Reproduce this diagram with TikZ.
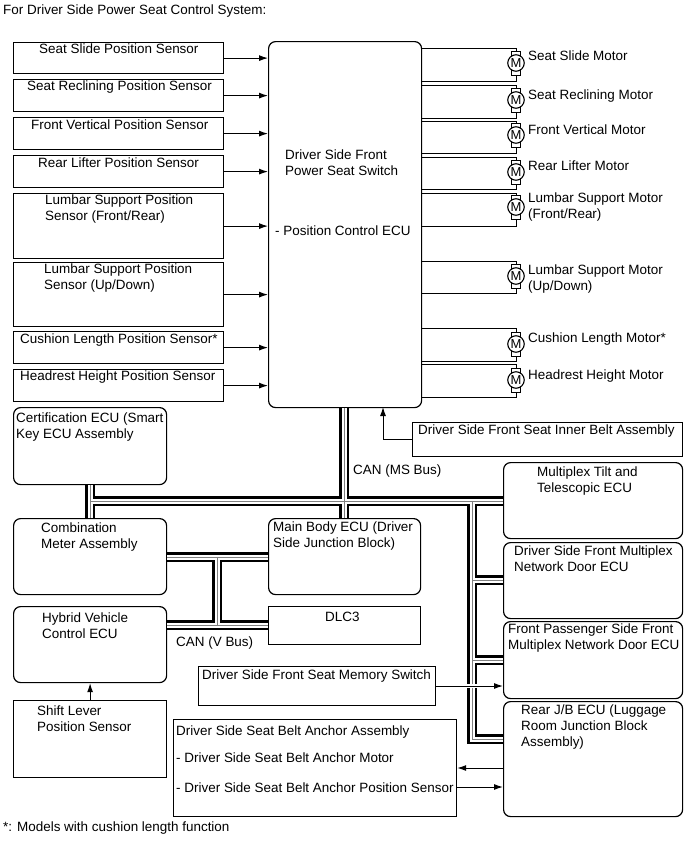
\documentclass[tikz,border=0pt]{standalone}
\usepackage{fontspec}
\setmainfont{Liberation Sans}
\usetikzlibrary{arrows.meta}
\usetikzlibrary{positioning}
\tikzstyle{sensor_box} = [
    rectangle, 
    draw=black, 
    fill=white, 
    line width=1.2pt, 
    anchor=north west, 
    inner sep=0pt
]
\tikzstyle{ecu_box} = [
    sensor_box, 
    rounded corners=7pt
]
\tikzstyle{box_text} = [
    anchor=north west, 
    inner sep=0pt, 
    yshift=-1pt, 
    align=left, 
    font=\fontsize{13.45}{16}\selectfont
]
\tikzstyle{motor_body} = [
    circle, 
    draw=black, 
    fill=white, 
    line width=1.1pt, 
    inner sep=0pt, 
    minimum size=16.5pt, 
    font=\fontsize{13}{13}\selectfont
]
\tikzstyle{motor_cap} = [
    rectangle, 
    draw=black, 
    fill=white, 
    line width=0.9pt, 
    inner sep=0pt, 
    minimum width=9.5pt, 
    minimum height=6pt
]
\tikzstyle{wire} = [
    draw=black, 
    line width=1pt
]
\tikzstyle{signal} = [
    wire, 
    -{Latex[length=9pt,width=6pt]}
]
% motor: name, centre y, upper wire y, lower wire y
\newcommand{\motorunit}[4]{
    \node [motor_cap] (#1_top) at (516,#2-9) {};
    \node [motor_cap] (#1_bot) at (516,#2+9) {};
    \node [motor_body] (#1) at (516,#2) {M};
    \draw [wire] (main_switch.east |- 0,#3) -| (#1_top.north);
    \draw [wire] (main_switch.east |- 0,#4) -| (#1_bot.south);
}
\begin{document}
\begin{tikzpicture}[x=1pt, y=-1pt]
\useasboundingbox (0,0) rectangle (689,854);

\node [box_text] (title) at (3,4) {For Driver Side Power Seat Control System:};
\node [box_text] (footnote) at (3,821) {*: Models with cushion length function};

% seat switch
\node [ecu_box, minimum width=153pt, minimum height=366pt] (main_switch) at (268,41) {};
\node [box_text] (main_name) at (285,149) {Driver Side Front\\Power Seat Switch};
\node [box_text] (main_ecu) at (275,225) {- Position Control ECU};

% position sensors
\node [sensor_box, minimum width=210pt, minimum height=31pt] (slide_sensor) at (13,42) {};
\node [sensor_box, minimum width=210pt, minimum height=32pt] (recline_sensor) at (13,79) {};
\node [sensor_box, minimum width=210pt, minimum height=32pt] (front_sensor) at (13,117) {};
\node [sensor_box, minimum width=210pt, minimum height=32pt] (rear_sensor) at (13,155) {};
\node [sensor_box, minimum width=210pt, minimum height=65pt] (lumbar_fr_sensor) at (13,193) {};
\node [sensor_box, minimum width=210pt, minimum height=64pt] (lumbar_ud_sensor) at (13,262) {};
\node [sensor_box, minimum width=210pt, minimum height=32pt] (cushion_sensor) at (13,331) {};
\node [sensor_box, minimum width=210pt, minimum height=32pt] (headrest_sensor) at (13,369) {};
\node [box_text] at (39,43) {Seat Slide Position Sensor};
\node [box_text] at (27,80) {Seat Reclining Position Sensor};
\node [box_text] at (31,119) {Front Vertical Position Sensor};
\node [box_text] at (38,157) {Rear Lifter Position Sensor};
\node [box_text] at (45,194) {Lumbar Support Position\\Sensor (Front/Rear)};
\node [box_text] at (44,263) {Lumbar Support Position\\Sensor (Up/Down)};
\node [box_text] at (20,333) {Cushion Length Position Sensor*};
\node [box_text] at (20,370) {Headrest Height Position Sensor};

\draw [signal] (slide_sensor.east) -- (main_switch.west |- slide_sensor.east);
\draw [signal] (recline_sensor.east) -- (main_switch.west |- recline_sensor.east);
\draw [signal] (front_sensor.east) -- (main_switch.west |- front_sensor.east);
\draw [signal] (rear_sensor.east) -- (main_switch.west |- rear_sensor.east);
\draw [signal] (lumbar_fr_sensor.east) -- (main_switch.west |- lumbar_fr_sensor.east);
\draw [signal] (lumbar_ud_sensor.east) -- (main_switch.west |- lumbar_ud_sensor.east);
\draw [signal] (cushion_sensor.east) -- (main_switch.west |- cushion_sensor.east);
\draw [signal] (headrest_sensor.east) -- (main_switch.west |- headrest_sensor.east);

% motors
\motorunit{slide_motor}{63}{48}{81}
\motorunit{recline_motor}{100}{85}{118}
\motorunit{front_motor}{135}{121}{153}
\motorunit{rear_motor}{172}{157}{189}
\motorunit{lumbar_fr_motor}{207}{193}{226}
\motorunit{lumbar_ud_motor}{276}{261}{293}
\motorunit{cushion_motor}{344}{328}{361}
\motorunit{headrest_motor}{380}{364}{397}
\node [box_text] at (528,50) {Seat Slide Motor};
\node [box_text] at (528,89) {Seat Reclining Motor};
\node [box_text] at (528,124) {Front Vertical Motor};
\node [box_text] at (528,160) {Rear Lifter Motor};
\node [box_text] at (528,192) {Lumbar Support Motor\\(Front/Rear)};
\node [box_text] at (528,264) {Lumbar Support Motor\\(Up/Down)};
\node [box_text] at (528,332) {Cushion Length Motor*};
\node [box_text] at (528,369) {Headrest Height Motor};

% inner belt
\node [sensor_box, minimum width=270pt, minimum height=34pt] (inner_belt) at (412,422) {};
\node [box_text] at (418,424) {Driver Side Front Seat Inner Belt Assembly};
\draw [signal] (inner_belt.west) -| (383,407);

% network members
\node [ecu_box, minimum width=153pt, minimum height=77pt] (cert_ecu) at (13,407) {};
\node [box_text] at (16,412) {Certification ECU (Smart\\Key ECU Assembly};
\node [ecu_box, minimum width=153pt, minimum height=76pt] (meter_ecu) at (13,518) {};
\node [box_text] at (41,522) {Combination\\Meter Assembly};
\node [ecu_box, minimum width=153pt, minimum height=76pt] (hybrid_ecu) at (13,606) {};
\node [box_text] at (42,612) {Hybrid Vehicle\\Control ECU};
\node [sensor_box, minimum width=153pt, minimum height=77pt] (shift_sensor) at (13,700) {};
\node [box_text] at (37,705) {Shift Lever\\Position Sensor};
\node [ecu_box, minimum width=152pt, minimum height=76pt] (body_ecu) at (268,518) {};
\node [box_text] at (273,521) {Main Body ECU (Driver\\Side Junction Block)};
\node [sensor_box, minimum width=152pt, minimum height=38pt] (dlc3) at (268,606) {};
\node [box_text] at (325,611) {DLC3};
\node [ecu_box, minimum width=179pt, minimum height=76pt] (tilt_ecu) at (503,462) {};
\node [box_text] at (537,466) {Multiplex Tilt and\\Telescopic ECU};
\node [ecu_box, minimum width=179pt, minimum height=76pt] (door_d_ecu) at (503,542) {};
\node [box_text] at (514,545) {Driver Side Front Multiplex\\Network Door ECU};
\node [ecu_box, minimum width=179pt, minimum height=77pt] (door_p_ecu) at (503,621) {};
\node [box_text] at (508,623) {Front Passenger Side Front\\Multiplex Network Door ECU};
\node [ecu_box, minimum width=179pt, minimum height=115pt] (rear_ecu) at (503,701) {};
\node [box_text] at (521,704) {Rear J/B ECU (Luggage\\Room Junction Block\\Assembly)};

\node [box_text] (ms_label) at (353,464) {CAN (MS Bus)};
\node [box_text] (v_label) at (176,636) {CAN (V Bus)};

% bus lines, black first and then the inner stripes
\coordinate (ms_left) at (90,501);
\coordinate (ms_trunk) at (344,501);
\coordinate (ms_right) at (472,501);
\coordinate (ms_door_d) at (472,580);
\coordinate (ms_door_p) at (472,660);
\coordinate (ms_rear) at (472,739);
\coordinate (v_top) at (217,557);
\coordinate (v_bot) at (217,625);
\foreach \busw/\busc in {10.4/black, 5/white, 0.8/gray} {
    \draw [line width=\busw pt, \busc] (cert_ecu.south -| ms_left) -- (meter_ecu.north -| ms_left);
    \draw [line width=\busw pt, \busc] (ms_left) -- (tilt_ecu.west |- ms_left);
    \draw [line width=\busw pt, \busc] (main_switch.south -| ms_trunk) -- (body_ecu.north -| ms_trunk);
    \draw [line width=\busw pt, \busc] (ms_right) |- (rear_ecu.west |- ms_rear);
    \draw [line width=\busw pt, \busc] (ms_door_d) -- (door_d_ecu.west |- ms_door_d);
    \draw [line width=\busw pt, \busc] (ms_door_p) -- (door_p_ecu.west |- ms_door_p);
    \draw [line width=\busw pt, \busc] (meter_ecu.east |- v_top) -- (body_ecu.west |- v_top);
    \draw [line width=\busw pt, \busc] (hybrid_ecu.east |- v_bot) -- (dlc3.west |- v_bot);
    \draw [line width=\busw pt, \busc] (v_top) -- (v_bot);
}

% memory switch and belt anchor
\node [sensor_box, minimum width=237pt, minimum height=39pt] (memory_switch) at (198,666) {};
\node [box_text] at (202,669) {Driver Side Front Seat Memory Switch};
\node [sensor_box, minimum width=283pt, minimum height=97pt] (anchor_assy) at (173,719) {};
\node [box_text] at (176,725) {Driver Side Seat Belt Anchor Assembly};
\node [box_text] at (176,752) {- Driver Side Seat Belt Anchor Motor};
\node [box_text] at (176,782) {- Driver Side Seat Belt Anchor Position Sensor};

\draw [signal, preaction={draw=white, line width=4pt, arrows={-}}] (memory_switch.east |- 0,686) -- (door_p_ecu.west |- 0,686);
\draw [signal] (rear_ecu.west |- 0,768) -- (anchor_assy.east |- 0,768);
\draw [signal] (anchor_assy.east |- 0,787) -- (rear_ecu.west |- 0,787);
\draw [signal] (shift_sensor.north) -- (hybrid_ecu.south);
\end{tikzpicture}
\end{document}
